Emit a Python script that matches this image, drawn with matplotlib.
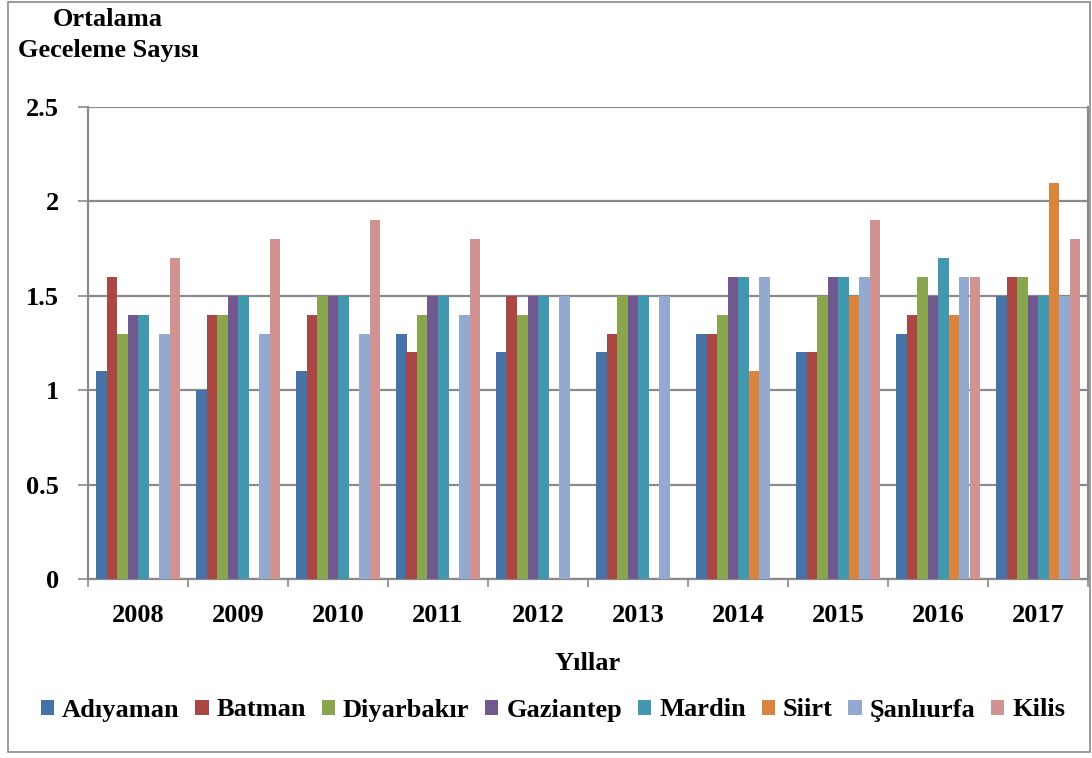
import matplotlib.pyplot as plt
import numpy as np
from matplotlib.patches import Rectangle

years = ['2008', '2009', '2010', '2011', '2012', '2013', '2014', '2015', '2016', '2017']
nan = np.nan

# average overnight stays per city (missing bars = nan)
adiyaman = [1.1, 1.0, 1.1, 1.3, 1.2, 1.2, 1.3, 1.2, 1.3, 1.5]
batman = [1.6, 1.4, 1.4, 1.2, 1.5, 1.3, 1.3, 1.2, 1.4, 1.6]
diyarbakir = [1.3, 1.4, 1.5, 1.4, 1.4, 1.5, 1.4, 1.5, 1.6, 1.6]
gaziantep = [1.4, 1.5, 1.5, 1.5, 1.5, 1.5, 1.6, 1.6, 1.5, 1.5]
mardin = [1.4, 1.5, 1.5, 1.5, 1.5, 1.5, 1.6, 1.6, 1.7, 1.5]
siirt = [nan, nan, nan, nan, nan, nan, 1.1, 1.5, 1.4, 2.1]
sanliurfa = [1.3, 1.3, 1.3, 1.4, 1.5, 1.5, 1.6, 1.6, 1.6, 1.5]
kilis = [1.7, 1.8, 1.9, 1.8, nan, nan, nan, 1.9, 1.6, 1.8]

names = ['Adıyaman', 'Batman', 'Diyarbakır', 'Gaziantep', 'Mardin', 'Siirt', 'Şanlıurfa', 'Kilis']
colors = ['#4572A7', '#AA4643', '#89A54E', '#71588F', '#4198AF', '#DB843D', '#93A9CF', '#D19392']
series = [adiyaman, batman, diyarbakir, gaziantep, mardin, siirt, sanliurfa, kilis]

plt.rcParams['font.family'] = ['Liberation Serif', 'DejaVu Serif']
plt.rcParams['font.weight'] = 'bold'
fs = 19

fig = plt.figure(figsize=(10.92, 7.58), dpi=100)
ax = fig.add_axes([88 / 1092, 1 - 579 / 758, 1000 / 1092, 472 / 758])

x = np.arange(len(years))
w = 0.105
for i, (vals, name, col) in enumerate(zip(series, names, colors)):
    offs = (i - 3.5) * w
    ax.bar(x + offs, vals, w, color=col, label=name, linewidth=0, zorder=3)

grid_col = '#8a8a8a'
ax.set_ylim(0, 2.5)
ax.set_xlim(-0.5, len(years) - 0.5)
ax.set_yticks([0, 0.5, 1, 1.5, 2, 2.5])
ax.set_yticklabels(['0', '0.5', '1', '1.5', '2', '2.5'])
ax.yaxis.grid(True, color=grid_col, linewidth=1.6, zorder=0)
ax.set_axisbelow(True)

ax.set_xticks(x)
ax.set_xticklabels(years)
ax.set_xticks(np.arange(len(years) + 1) - 0.5, minor=True)
ax.tick_params(axis='x', which='major', length=0, pad=18, labelsize=fs)
ax.tick_params(axis='x', which='minor', length=6, width=1.2, color=grid_col)
ax.tick_params(axis='y', length=7, width=1.2, color=grid_col, labelsize=fs, pad=14)

for s in ['left', 'bottom', 'right']:
    ax.spines[s].set_color(grid_col)
    ax.spines[s].set_linewidth(1.6)
ax.spines['top'].set_visible(False)

ax.set_xlabel('Yıllar', fontsize=fs, fontweight='bold', labelpad=18)

fig.text(108 / 1092, 1 - 8 / 758, 'Ortalama\nGeceleme Sayısı', ha='center', va='top',
         fontsize=fs, fontweight='bold', linespacing=1.45, multialignment='center')

ax.legend(loc='center', bbox_to_anchor=(553 / 1092, 1 - 710 / 758), bbox_transform=fig.transFigure,
          ncol=8, frameon=False, fontsize=fs, handlelength=0.5, handleheight=0.5,
          handletextpad=0.3, columnspacing=0.6, borderaxespad=0)

fig.patches.append(Rectangle((8 / 1092, 6 / 758), 1082 / 1092, 750 / 758, transform=fig.transFigure,
                             fill=False, edgecolor='#8a8a8a', linewidth=1.2))

fig.savefig('out.png', dpi=100)
